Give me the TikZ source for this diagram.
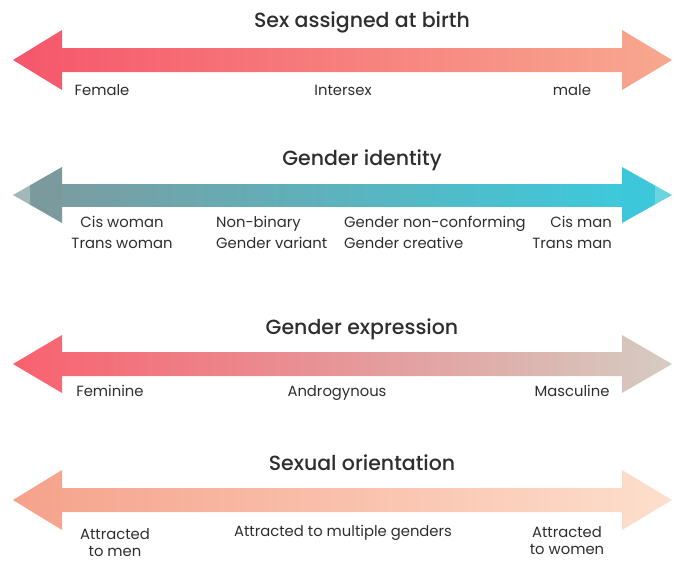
\documentclass[tikz,border=0pt]{standalone}
\usepackage{fontspec}
\setmainfont{Poppins}[BoldFont={* Medium}]
\usetikzlibrary{positioning}
\definecolor{ink}{HTML}{2E2E2E}
\definecolor{sexL}{HTML}{F5566B}
\definecolor{sexR}{HTML}{F8A88F}
\definecolor{idL}{HTML}{7A9DA1}
\definecolor{idR}{HTML}{3DC9DB}
\definecolor{idheadL}{HTML}{7B9A9E}
\definecolor{idtipL}{HTML}{A2B8BA}
\definecolor{idheadR}{HTML}{3CC8DA}
\definecolor{idtipR}{HTML}{68D5E3}
\definecolor{exL}{HTML}{F8616F}
\definecolor{exM}{HTML}{EFA2A1}
\definecolor{exR}{HTML}{D5CCC2}
\definecolor{oriL}{HTML}{F5A28B}
\definecolor{oriR}{HTML}{FDDFCD}
% double arrow: centre y, head half height, bar half height
\newcommand{\spectrumbar}[3]{(13,#1) -- (62,#1-#2) -- (62,#1-#3) -- (622,#1-#3) -- (622,#1-#2) -- (672,#1) -- (622,#1+#2) -- (622,#1+#3) -- (62,#1+#3) -- (62,#1+#2) -- cycle}
\tikzset{
    ttl/.style={text=ink, font=\fontsize{20.5}{24}\selectfont\bfseries, inner sep=0pt, anchor=base},
    lbl/.style={text=ink, font=\fontsize{14.8}{21}\selectfont, inner sep=0pt},
    lblBase/.style={lbl, anchor=base},
    lblTight/.style={lbl, font=\fontsize{14.8}{17}\selectfont, align=center},
}
\begin{document}
\begin{tikzpicture}[x=1pt, y=-1pt]
    \useasboundingbox (0,0) rectangle (674,563);

    % sex assigned at birth
    \shade[left color=sexL, right color=sexR] \spectrumbar{60}{30}{12};
    \node[ttl] (sex) at (362,27) {Sex assigned at birth};
    \node[lblBase] (female) at (102,95) {Female};
    \node[lblBase] (intersex) at (343,95) {Intersex};
    \node[lblBase] (male) at (572,95) {male};

    % gender identity
    \shade[left color=idL, right color=idR] (62,184) rectangle (622,206);
    \fill[idheadL] (30,185.3) -- (62,167) -- (62,223) -- (30,204.7) -- cycle;
    \fill[idtipL] (13,195) -- (30,185.3) -- (30,204.7) -- cycle;
    \fill[idheadR] (622,167) -- (655,185.5) -- (655,204.5) -- (622,223) -- cycle;
    \fill[idtipR] (655,185.5) -- (672,195) -- (655,204.5) -- cycle;
    \node[ttl] (ident) at (362,165) {Gender identity};
    \node[lbl, align=center] (cisw) at (122,232) {Cis woman\\Trans woman};
    \node[lbl, align=left, anchor=west] (nonbin) at (216,232) {Non-binary\\Gender variant};
    \node[lbl, align=left, anchor=west] (noncon) at (344,232) {Gender non-conforming\\Gender creative};
    \node[lbl, align=right, anchor=east] (cism) at (612,232) {Cis man\\Trans man};

    % gender expression
    \shade[left color=exL, middle color=exM, right color=exR] \spectrumbar{364}{29}{12};
    \node[ttl] (expr) at (362,334) {Gender expression};
    \node[lblBase] (fem) at (110,396) {Feminine};
    \node[lblBase] (andro) at (337,396) {Androgynous};
    \node[lblBase] (masc) at (572,396) {Masculine};

    % sexual orientation
    \shade[left color=oriL, right color=oriR] \spectrumbar{500}{30}{12};
    \node[ttl] (orient) at (362,470) {Sexual orientation};
    \node[lblTight] (tomen) at (115,543) {Attracted\\to men};
    \node[lblBase] (multi) at (343,536) {Attracted to multiple genders};
    \node[lblTight] (towomen) at (567,541) {Attracted\\to women};
\end{tikzpicture}
\end{document}
